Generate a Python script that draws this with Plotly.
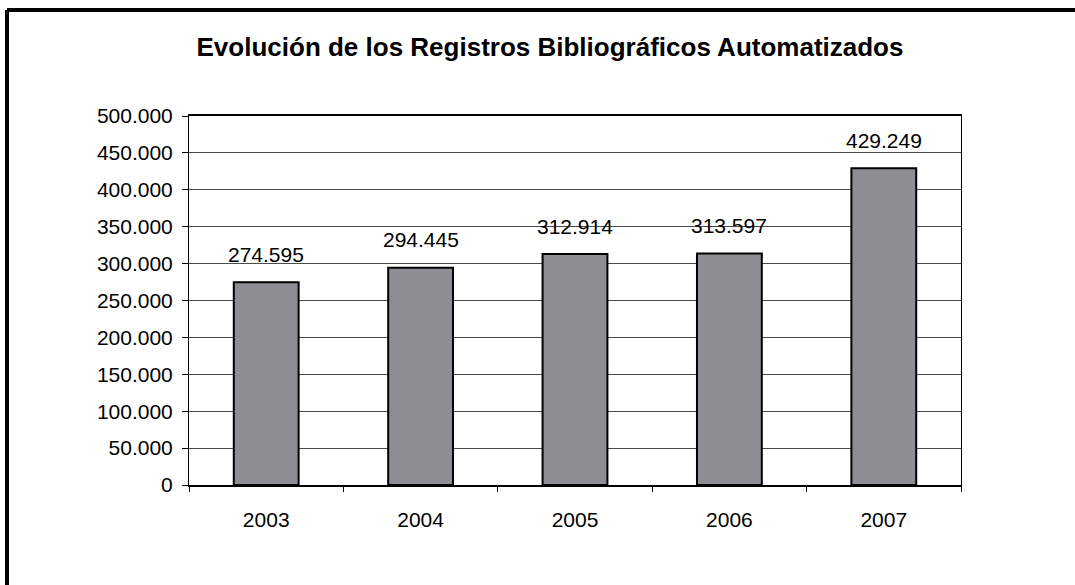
import plotly.graph_objects as go

# Registros bibliográficos automatizados por año
years = ["2003", "2004", "2005", "2006", "2007"]
registros = [274595, 294445, 312914, 313597, 429249]
y_ticks = [0, 50000, 100000, 150000, 200000, 250000, 300000, 350000, 400000, 450000, 500000]


def fmt_miles(v):
    return f"{v:,}".replace(",", ".")


W, H = 1075, 585
L, R, T, B = 189, 961, 116, 485  # plot area in pixels
FONT = "Liberation Sans, Arial, sans-serif"

fig = go.Figure(
    go.Bar(
        x=list(range(len(years))),
        y=registros,
        marker=dict(color="#8d8e93", line=dict(color="#000000", width=2)),
        hoverinfo="skip",
    )
)

# Value labels above each bar
for i, v in enumerate(registros):
    fig.add_annotation(
        x=i, y=v, text=fmt_miles(v), showarrow=False,
        xref="x", yref="y",
        yanchor="middle", yshift=28,
        font=dict(family=FONT, size=21, color="#000"),
    )


def px_x(p):
    return (p - L) / (R - L)


def px_y(p):
    return (B - p) / (B - T)


# Frame around the chart (top and left edges fall inside the canvas)
fig.add_shape(type="line", xref="paper", yref="paper",
              x0=px_x(7), x1=px_x(1090), y0=px_y(10), y1=px_y(10),
              line=dict(color="#000", width=4))
fig.add_shape(type="line", xref="paper", yref="paper",
              x0=px_x(7), x1=px_x(7), y0=px_y(10), y1=px_y(600),
              line=dict(color="#000", width=4))

# Category boundary ticks on the x axis
x_bounds = [i - 0.5 for i in range(len(years) + 1)]

fig.update_layout(
    width=W, height=H,
    margin=dict(l=L, r=W - R, t=T, b=H - B, pad=0),
    paper_bgcolor="white", plot_bgcolor="white",
    bargap=0.58,
    showlegend=False,
    font=dict(family=FONT, size=21, color="#000"),
    title=dict(
        text="<b>Evolución de los Registros Bibliográficos Automatizados</b>",
        x=px_x(550), xanchor="center", xref="paper",
        y=1 - 47 / H, yanchor="middle",
        font=dict(family=FONT, size=26, color="#000"),
    ),
    xaxis=dict(
        range=[-0.5, len(years) - 0.5],
        tickvals=list(range(len(years))),
        ticktext=years,
        ticks="",
        showline=True, linecolor="#000", linewidth=2, mirror=True,
        ticklabelstandoff=15,
        showgrid=False, zeroline=False,
        tickfont=dict(family=FONT, size=21, color="#000"),
    ),
    xaxis2=dict(
        overlaying="x", matches="x", side="bottom", anchor="y",
        tickvals=x_bounds, ticktext=["" for _ in x_bounds],
        ticks="outside", ticklen=6, tickcolor="#000", tickwidth=1,
        showgrid=False, showline=False, zeroline=False,
    ),
    yaxis=dict(
        range=[0, 500000],
        tickvals=y_ticks,
        ticktext=[fmt_miles(v) for v in y_ticks],
        showline=True, linecolor="#000", linewidth=1, mirror=True,
        ticks="outside", ticklen=6, tickcolor="#000", tickwidth=1,
        ticklabelstandoff=5,
        showgrid=True, gridcolor="#4a4a4a", gridwidth=1,
        zeroline=False,
        tickfont=dict(family=FONT, size=21, color="#000"),
    ),
)

# Invisible trace so the boundary-tick axis is rendered
fig.add_trace(go.Scatter(x=[0], y=[0], xaxis="x2", mode="markers",
                         marker=dict(opacity=0), hoverinfo="skip", showlegend=False))

fig.write_html("out.html")
